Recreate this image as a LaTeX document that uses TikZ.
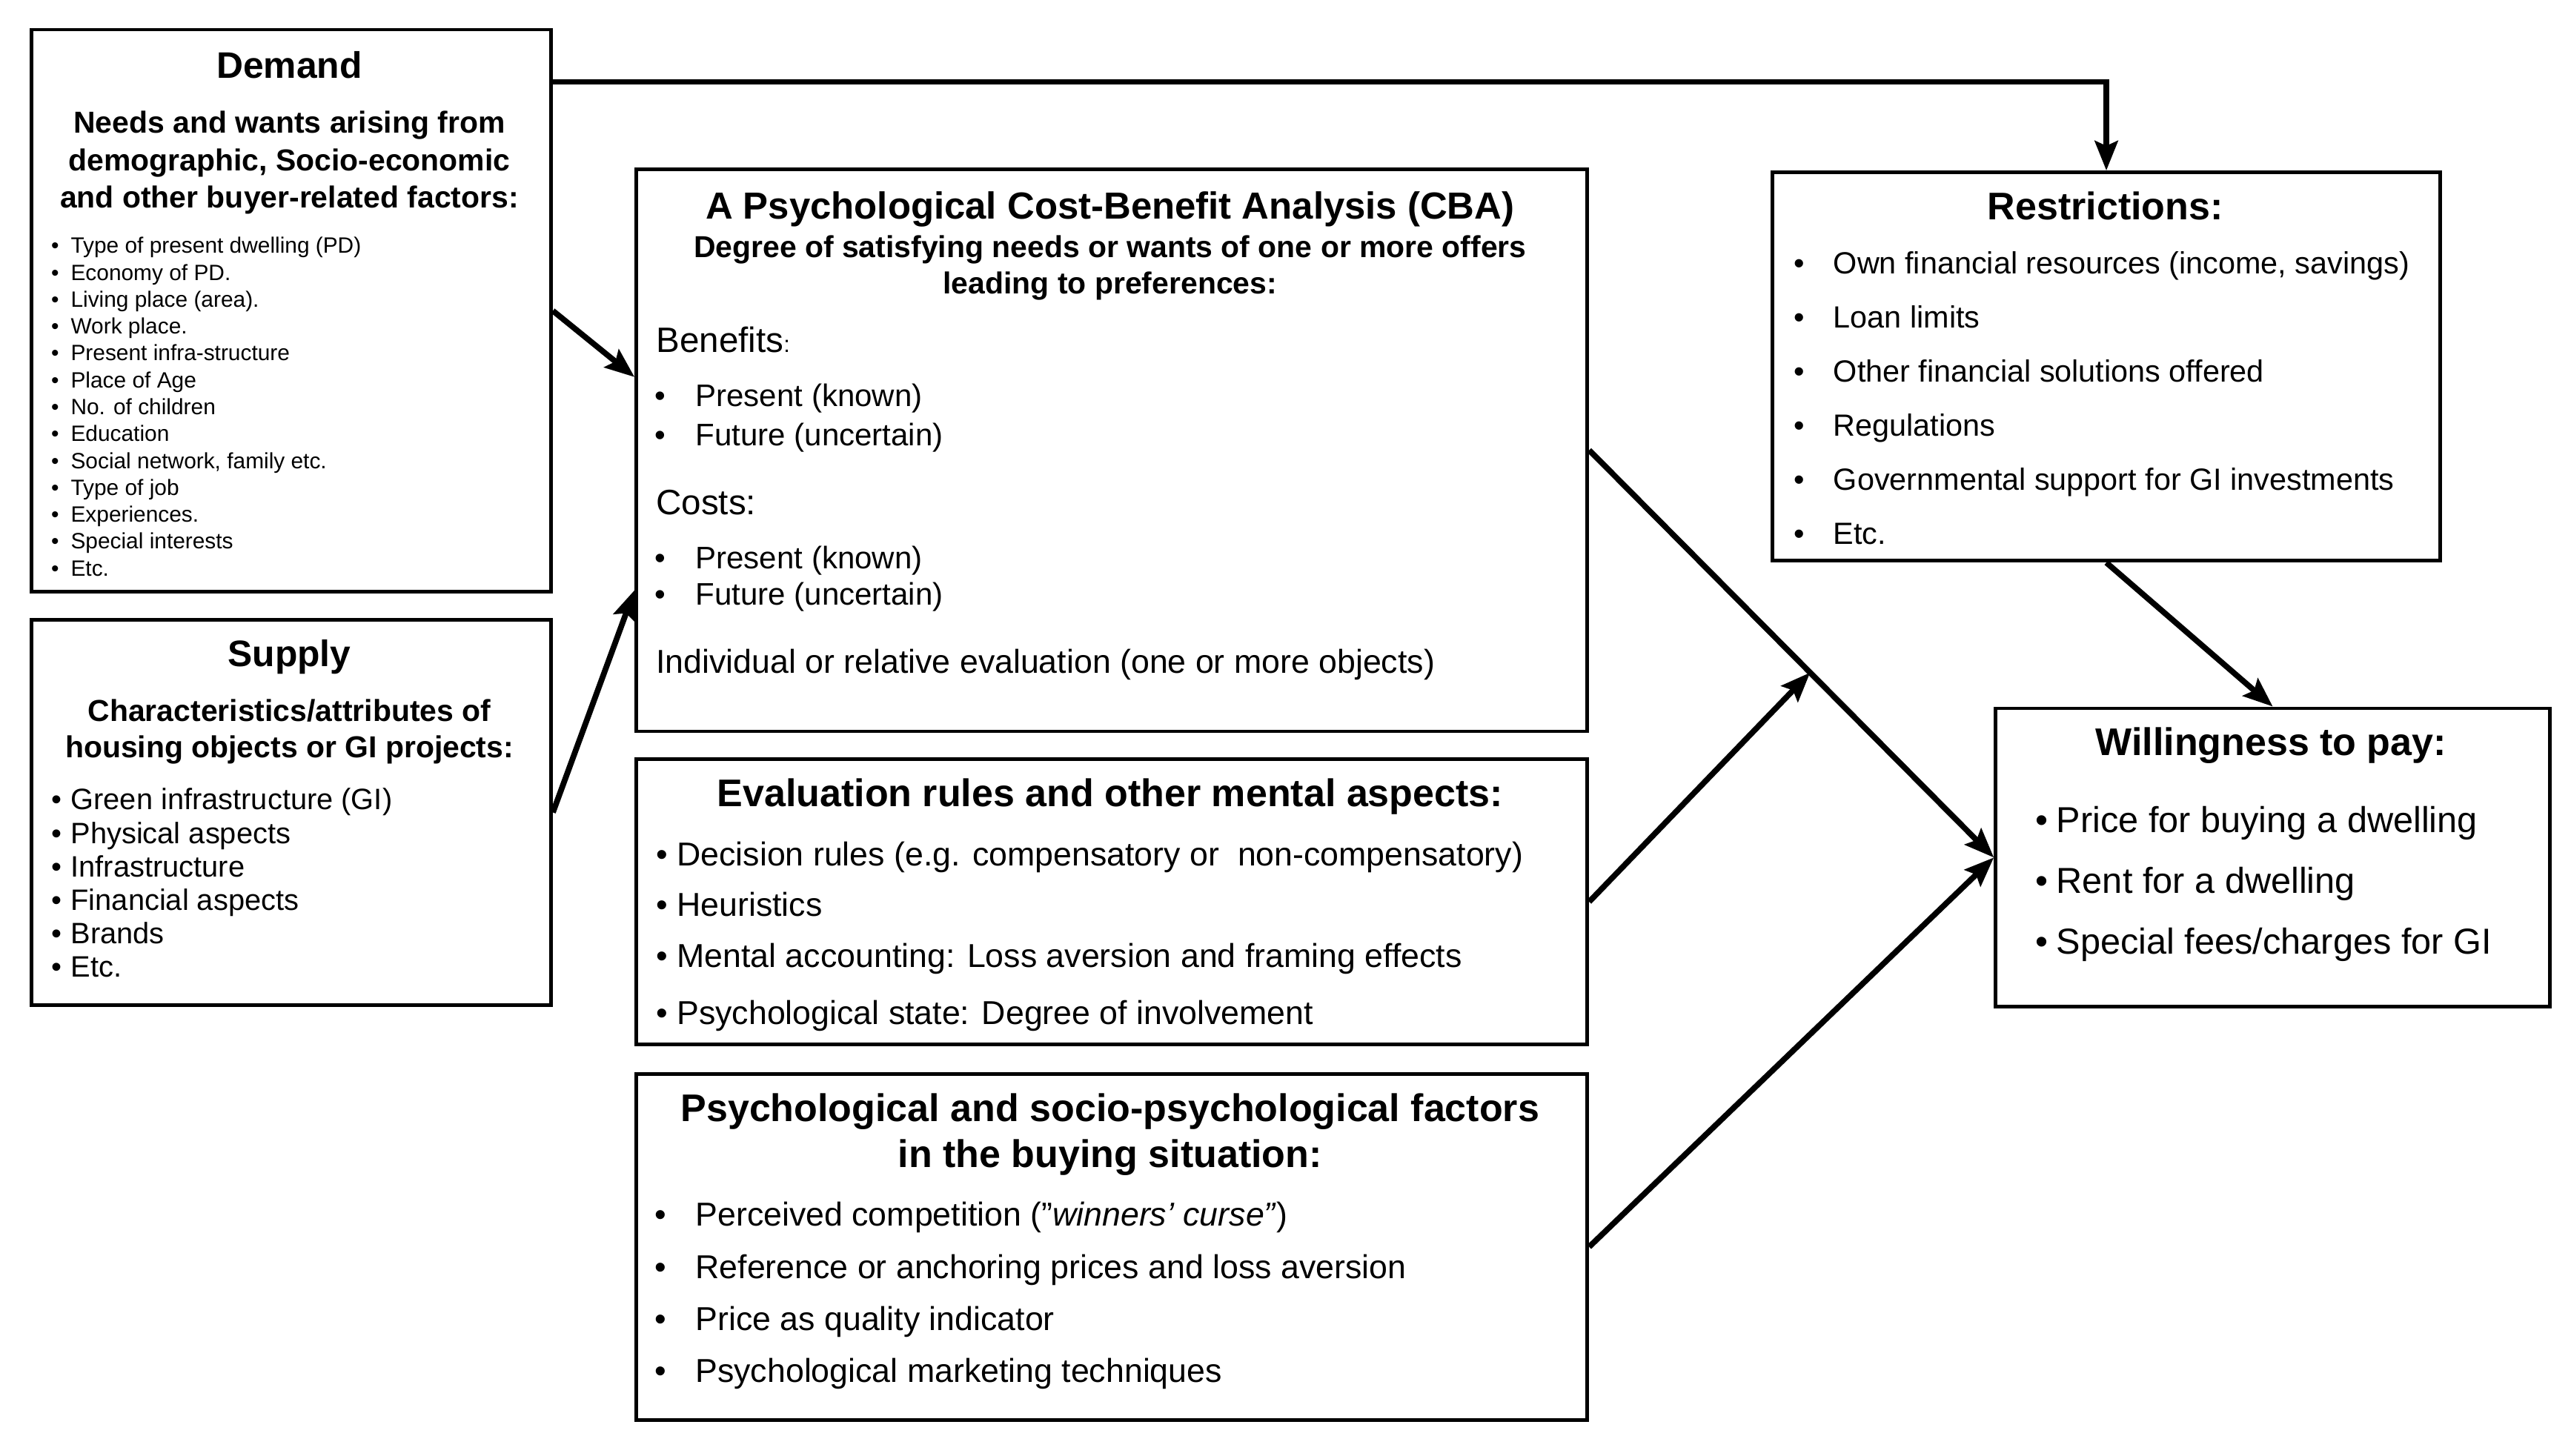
\documentclass[tikz,border=0pt]{standalone}
\usepackage{fontspec}
\setmainfont{Liberation Sans}
\usetikzlibrary{arrows.meta,calc}
\newcommand\fs[2]{\fontsize{#1}{#2}\selectfont}
\newcommand\bu[1]{\makebox[#1][l]{•}}
\begin{document}
\begin{tikzpicture}[x=1pt,y=-1pt,
  box/.style={draw, line width=2.2pt, inner sep=0pt, anchor=north west},
  arr/.style={line width=3.5pt, -{Stealth[length=18pt,width=14pt,inset=3pt]}},
  txt/.style={inner sep=0pt, anchor=base west, align=left},
  ctr/.style={inner sep=0pt, anchor=base, align=center}]
\useasboundingbox (0,0) rectangle (1568,888);
% boxes
\node[box, minimum width=317pt, minimum height=343pt] (demand) at (18,17) {};
\node[box, minimum width=317pt, minimum height=235pt] (supply) at (18,377) {};
\node[box, minimum width=580pt, minimum height=343pt] (cba) at (387,102) {};
\node[box, minimum width=580pt, minimum height=174pt] (eval) at (387,462) {};
\node[box, minimum width=580pt, minimum height=211pt] (psych) at (387,654) {};
\node[box, minimum width=407pt, minimum height=237pt] (restr) at (1080,104) {};
\node[box, minimum width=338pt, minimum height=182pt] (wtp) at (1216,431) {};
% (multi-line nodes are placed at the baseline of their last line)
% demand
\node[ctr, font=\bfseries\fs{22.5}{27}] (demandT) at (176.5,47.5) {Demand};
\node[ctr, font=\bfseries\fs{18.5}{23}] (demandS) at (176.5,127) {Needs and wants arising from\\demographic, Socio-economic\\and other buyer-related factors:};
\node[txt, font=\fs{13.5}{16.4}] (demandL) at (31,351.3) {\bu{12pt}Type of present dwelling (PD)\\\bu{12pt}Economy of PD.\\\bu{12pt}Living place (area).\\\bu{12pt}Work place.\\\bu{12pt}Present infra-structure\\\bu{12pt}Place of Age\\\bu{12pt}No. of children\\\bu{12pt}Education\\\bu{12pt}Social network, family etc.\\\bu{12pt}Type of job\\\bu{12pt}Experiences.\\\bu{12pt}Special interests\\\bu{12pt}Etc.};
% supply
\node[ctr, font=\bfseries\fs{22.5}{27}] (supplyT) at (176.5,406.5) {Supply};
\node[ctr, font=\bfseries\fs{18.5}{22}] (supplyS) at (176.5,462) {Characteristics/attributes of\\housing objects or GI projects:};
\node[txt, font=\fs{18}{20.4}] (supplyL) at (31,596) {\bu{12pt}Green infrastructure (GI)\\\bu{12pt}Physical aspects\\\bu{12pt}Infrastructure\\\bu{12pt}Financial aspects\\\bu{12pt}Brands\\\bu{12pt}Etc.};
% cba
\node[ctr, font=\bfseries\fs{23}{27}] (cbaT) at (677,133.5) {A Psychological Cost-Benefit Analysis (CBA)};
\node[ctr, font=\bfseries\fs{18.5}{22}] (cbaS) at (677,179) {Degree of satisfying needs or wants of one or more offers\\leading to preferences:};
\node[txt, font=\fs{21.5}{26}] (cbaB) at (400,215) {Benefits{\fs{14}{16}:}};
\node[txt, font=\fs{19}{24}] (cbaBL) at (399,272) {\bu{25pt}Present (known)\\\bu{25pt}Future (uncertain)};
\node[txt, font=\fs{21.5}{26}] (cbaC) at (400,314) {Costs:};
\node[txt, font=\fs{19}{22}] (cbaCL) at (399,369) {\bu{25pt}Present (known)\\\bu{25pt}Future (uncertain)};
\node[txt, font=\fs{20.2}{24}] (cbaI) at (400,410.6) {Individual or relative evaluation (one or more objects)};
% evaluation
\node[ctr, font=\bfseries\fs{23.5}{28}] (evalT) at (677,492) {Evaluation rules and other mental aspects:};
\node[txt, font=\fs{20.2}{31}] (evalL) at (400,625) {• Decision rules (e.g. compensatory or\ \ non-compensatory)\\• Heuristics\\• Mental accounting: Loss aversion and framing effects\\[4pt]• Psychological state: Degree of involvement};
% psych
\node[ctr, font=\bfseries\fs{23.5}{28}] (psyT) at (677,712) {Psychological and socio-psychological factors\\in the buying situation:};
\node[txt, font=\fs{20.2}{31.7}] (psyL) at (399,843.1) {\bu{25pt}Perceived competition (”\textit{winners’ curse”})\\\bu{25pt}Reference or anchoring prices and loss aversion\\\bu{25pt}Price as quality indicator\\\bu{25pt}Psychological marketing techniques};
% restrictions
\node[ctr, font=\bfseries\fs{23.5}{28}] (resT) at (1284,134) {Restrictions:};
\node[txt, font=\fs{18.7}{33}] (resL) at (1094,332) {\bu{24pt}Own financial resources (income, savings)\\\bu{24pt}Loan limits\\\bu{24pt}Other financial solutions offered\\\bu{24pt}Regulations\\\bu{24pt}Governmental support for GI investments\\\bu{24pt}Etc.};
% wtp
\node[ctr, font=\bfseries\fs{23.5}{28}] (wtpT) at (1385,461) {Willingness to pay:};
\node[txt, font=\fs{22}{37}] (wtpL) at (1241,582) {\bu{13pt}Price for buying a dwelling\\\bu{13pt}Rent for a dwelling\\\bu{13pt}Special fees/charges for GI};
% arrows
\draw[arr] ($(demand.north east)+(0,33)$) -| (restr.north);
\draw[arr] (demand.east) -- ($(cba.north west)+(0,128)$);
\draw[arr] (supply.east) -- ($(cba.north west)+(0,258)$);
\draw[arr] (cba.east) -- coordinate[pos=0.546] (junc) (wtp.west);
\draw[arr] (eval.east) -- (junc);
\draw[arr] (psych.east) -- (wtp.west);
\draw[arr] (restr.south) -- (wtp.north);
\end{tikzpicture}
\end{document}
